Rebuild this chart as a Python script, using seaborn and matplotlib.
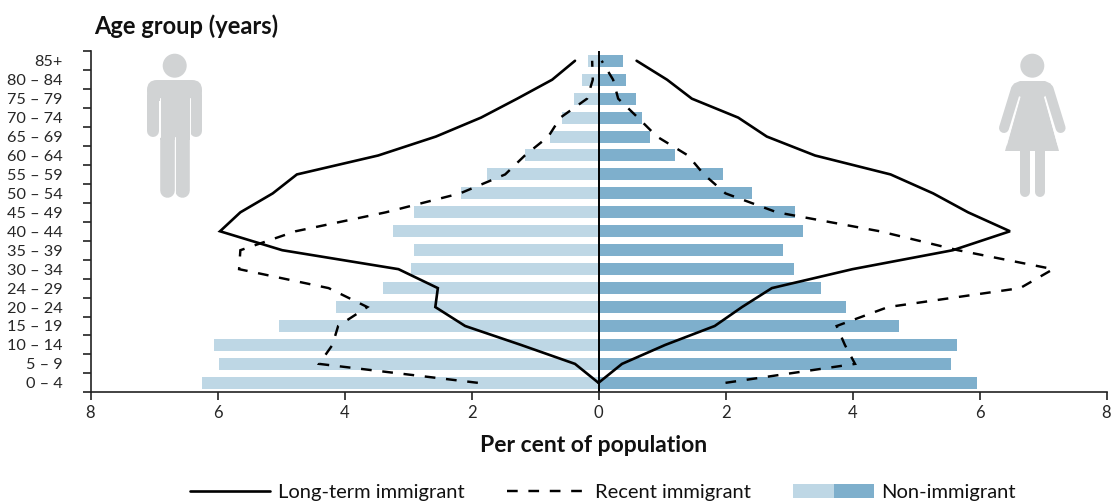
import matplotlib
matplotlib.use("Agg")
import matplotlib.pyplot as plt
import numpy as np
import pandas as pd
import seaborn as sns
from matplotlib.lines import Line2D
from matplotlib.patches import Patch, Circle, FancyBboxPatch, Polygon, Rectangle
from matplotlib.legend_handler import HandlerTuple

age_labels = ["0 – 4", "5 – 9", "10 – 14", "15 – 19", "20 – 24", "24 – 29", "30 – 34", "35 – 39", "40 – 44",
              "45 – 49", "50 – 54", "55 – 59", "60 – 64", "65 – 69", "70 – 74", "75 – 79", "80 – 84", "85+"]
non_male = [6.24, 5.98, 6.05, 5.03, 4.13, 3.39, 2.95, 2.91, 3.24, 2.91, 2.17, 1.76, 1.16, 0.76, 0.58, 0.39, 0.26, 0.17]
non_female = [5.96, 5.55, 5.65, 4.73, 3.90, 3.50, 3.08, 2.91, 3.22, 3.09, 2.42, 1.96, 1.21, 0.81, 0.69, 0.59, 0.43, 0.39]
long_male = [0.0, 0.37, 1.22, 2.10, 2.57, 2.53, 3.15, 4.98, 5.96, 5.64, 5.13, 4.75, 3.47, 2.56, 1.85, 1.28, 0.73, 0.37]
long_female = [0.0, 0.37, 1.05, 1.83, 2.26, 2.73, 4.00, 5.58, 6.48, 5.82, 5.27, 4.60, 3.41, 2.65, 2.20, 1.47, 1.08, 0.60]
recent_male = [1.90, 4.40, 4.19, 4.10, 3.64, 4.25, 5.66, 5.64, 4.77, 3.35, 2.18, 1.47, 1.16, 0.79, 0.60, 0.18, 0.09, 0.10]
recent_female = [2.00, 4.04, 3.88, 3.75, 4.56, 6.64, 7.16, 5.66, 4.43, 2.81, 2.00, 1.66, 1.41, 0.92, 0.62, 0.31, 0.23, 0.05]
x_ticks = [-8, -6, -4, -2, 0, 2, 4, 6, 8]

C_LIGHT = "#bed7e5"
C_DARK = "#7eafcc"
C_ICON = "#d1d3d4"
INK = "#111111"
W, H = 1112, 504

sns.set_theme(style="white")
plt.rcParams["font.family"] = ["Lato", "DejaVu Sans"]
plt.rcParams["text.color"] = INK

fig = plt.figure(figsize=(W / 100, H / 100), dpi=100)
L, R, T, B = 90.5, 1106.5, 51.3, 392.3
ax = fig.add_axes([L / W, 1 - B / H, (R - L) / W, (B - T) / H])

pos = np.arange(len(age_labels))
bars = pd.DataFrame({"pos": np.r_[pos, pos],
                     "value": np.r_[-np.array(non_male), np.array(non_female)],
                     "side": ["m"] * len(pos) + ["f"] * len(pos)})
sns.barplot(data=bars, x="value", y="pos", hue="side", palette={"m": C_LIGHT, "f": C_DARK},
            orient="h", native_scale=True, dodge=False, width=0.634, legend=False, ax=ax, saturation=1, linewidth=0)


def line(vals, sign, **kw):
    df = pd.DataFrame({"x": sign * np.array(vals), "y": pos})
    sns.lineplot(data=df, x="x", y="y", sort=False, estimator=None, orient="y", color="black", ax=ax, **kw)


solid = dict(lw=1.9, solid_joinstyle="miter")
dash = dict(lw=1.75, linestyle=(0, (4.4, 4.4)), dash_capstyle="butt", dash_joinstyle="miter")
line(long_male, -1, **solid)
line(long_female, 1, **solid)
line(recent_male, -1, **dash)
line(recent_female, 1, **dash)
ax.axvline(0, color="black", lw=1.4)

ax.set_xlim(-8, 8)
ax.set_ylim(-0.5, len(pos) - 0.5)
sns.despine(ax=ax)
for s in ("left", "bottom"):
    ax.spines[s].set_linewidth(1.2)
    ax.spines[s].set_color("#222222")
ax.set_xticks(x_ticks)
ax.set_xticklabels([str(abs(t)) for t in x_ticks], fontsize=12)
ax.set_yticks(pos)
ax.set_yticklabels(age_labels, fontsize=11.7)
ax.set_yticks(np.arange(-0.5, len(pos)), minor=True)
ax.tick_params(axis="y", which="major", length=0, pad=20)
ax.tick_params(axis="y", which="minor", length=5.8, width=1.2, color="#222222", left=True)
ax.tick_params(axis="x", which="major", length=5.8, width=1.2, color="#222222", bottom=True, pad=3.5)
ax.set_xlabel("")
ax.set_ylabel("")

fig.text(94 / W, 1 - 26 / H, "Age group (years)", fontsize=17, fontweight="bold", va="center", ha="left")
fig.text(594 / W, 1 - 446 / H, "Per cent of population", fontsize=16.5, fontweight="bold", va="center", ha="center")

handles = [Line2D([], [], color="black", lw=1.9),
           Line2D([], [], color="black", lw=1.75, linestyle=(0, (4.4, 4.4))),
           (Patch(color=C_LIGHT, lw=0), Patch(color=C_DARK, lw=0))]
ax.legend(handles, ["Long-term immigrant", "Recent immigrant", "Non-immigrant"],
          handler_map={tuple: HandlerTuple(ndivide=None, pad=0)},
          ncol=3, frameon=False, fontsize=14.5, handlelength=4.0, handleheight=0.65, handletextpad=0.38,
          columnspacing=2.1, loc="center", bbox_to_anchor=(603 / W, 1 - 492.5 / H),
          bbox_transform=fig.transFigure, borderpad=0, borderaxespad=0)

# Silhouettes, on a pixel overlay
ov = fig.add_axes([0, 0, 1, 1], facecolor="none")
ov.set_xlim(0, W)
ov.set_ylim(H, 0)
ov.axis("off")


def limb(x0, y0, x1, y1, w):
    ov.add_line(Line2D([x0, x1], [y0, y1], color=C_ICON, lw=w * 0.72, solid_capstyle="round"))


# man
ov.add_patch(Circle((174.7, 65.7), 12, color=C_ICON, lw=0))
ov.add_patch(FancyBboxPatch((157, 90), 35, 1, boxstyle="round,pad=10,rounding_size=10", color=C_ICON, lw=0))
limb(153.3, 95, 153.3, 131, 12)
limb(196, 95, 196, 131, 12)
ov.add_patch(Rectangle((159.5, 90), 30.5, 50, color=C_ICON, lw=0))
limb(167, 135, 167, 189.5, 14.6)
limb(182.4, 135, 182.4, 189.5, 14.6)
ov.add_line(Line2D([159.5, 159.5], [98, 137], color="white", lw=0.7))
ov.add_line(Line2D([190, 190], [98, 137], color="white", lw=0.7))
ov.add_line(Line2D([174.7, 174.7], [137, 197], color="white", lw=0.7))

# woman
ov.add_patch(Circle((1032.3, 65.7), 12, color=C_ICON, lw=0))
ov.add_patch(Polygon([(1020, 81), (1045, 81), (1050.5, 83.5), (1053, 88), (1044.5, 97), (1059, 151), (1005, 151),
                      (1020, 97), (1011.5, 88), (1014, 83.5)], closed=True, color=C_ICON, lw=0))
limb(1016, 89, 1004, 128, 10)
limb(1048.6, 89, 1060.6, 128, 10)
ov.add_line(Line2D([1020, 1006.5], [97, 145], color="white", lw=0.7))
ov.add_line(Line2D([1044.5, 1058], [97, 145], color="white", lw=0.7))
limb(1025, 150, 1025, 192, 10)
limb(1039.5, 150, 1039.5, 192, 10)

fig.savefig("out.png", dpi=100)
